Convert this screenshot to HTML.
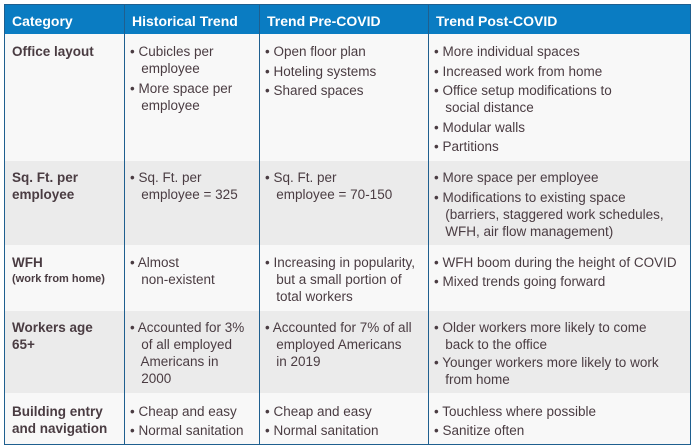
<!DOCTYPE html>
<html><head><meta charset="utf-8"><style>
body{margin:0;width:696px;height:448px;background:#fff;position:relative;overflow:hidden;font-family:"Liberation Sans",sans-serif;color:#4a3c42}
.r{position:absolute;left:5px;width:685px}
.v{position:absolute;top:4px;height:440px;width:1px;background:#1f5f8f}
.t{position:absolute;font-size:13.5px;line-height:17px;white-space:nowrap}
.b{font-weight:bold}
.h{color:#fff;font-weight:bold;font-size:14px}
</style></head><body>
<div class="r" style="top:4px;height:30px;background:#0a7cc2"></div>
<div class="r" style="top:34px;height:127px;background:#f8f8f8"></div>
<div class="r" style="top:161px;height:84px;background:#ebebeb"></div>
<div class="r" style="top:245px;height:66px;background:#f8f8f8"></div>
<div class="r" style="top:311px;height:82px;background:#ebebeb"></div>
<div class="r" style="top:393px;height:51px;background:#f8f8f8"></div>
<div style="position:absolute;left:4px;top:4px;width:685px;height:439px;border:1px solid #1f5f8f"></div>
<div class="v" style="left:124px"></div>
<div class="v" style="left:259px"></div>
<div class="v" style="left:428px"></div>

<div class="t h" style="left:12px;top:13px">Category</div>
<div class="t h" style="left:132px;top:13px">Historical Trend</div>
<div class="t h" style="left:267px;top:13px">Trend Pre-COVID</div>
<div class="t h" style="left:436px;top:13px">Trend Post-COVID</div>

<div class="t b" style="left:12px;top:43px">Office layout</div>
<div class="t" style="left:130px;top:43px">• Cubicles per<br>&nbsp;&nbsp; employee</div>
<div class="t" style="left:130px;top:80px">• More space per<br>&nbsp;&nbsp; employee</div>
<div class="t" style="left:265px;top:43px">• Open floor plan</div>
<div class="t" style="left:265px;top:63px">• Hoteling systems</div>
<div class="t" style="left:265px;top:82px">• Shared spaces</div>
<div class="t" style="left:434px;top:43px">• More individual spaces</div>
<div class="t" style="left:434px;top:63px">• Increased work from home</div>
<div class="t" style="left:434px;top:82px">• Office setup modifications to<br>&nbsp;&nbsp; social distance</div>
<div class="t" style="left:434px;top:119px">• Modular walls</div>
<div class="t" style="left:434px;top:138px">• Partitions</div>

<div class="t b" style="left:12px;top:169px">Sq. Ft. per<br>employee</div>
<div class="t" style="left:130px;top:169px">• Sq. Ft. per<br>&nbsp;&nbsp; employee = 325</div>
<div class="t" style="left:265px;top:169px">• Sq. Ft. per<br>&nbsp;&nbsp; employee = 70-150</div>
<div class="t" style="left:434px;top:169px">• More space per employee</div>
<div class="t" style="left:434px;top:189px">• Modifications to existing space<br>&nbsp;&nbsp; (barriers, staggered work schedules,<br>&nbsp;&nbsp; WFH, air flow management)</div>

<div class="t b" style="left:12px;top:254px">WFH</div>
<div class="t b" style="left:12px;top:271px;font-size:11px">(work from home)</div>
<div class="t" style="left:130px;top:254px">• Almost<br>&nbsp;&nbsp; non-existent</div>
<div class="t" style="left:265px;top:254px">• Increasing in popularity,<br>&nbsp;&nbsp; but a small portion of<br>&nbsp;&nbsp; total workers</div>
<div class="t" style="left:434px;top:254px">• WFH boom during the height of COVID</div>
<div class="t" style="left:434px;top:273px">• Mixed trends going forward</div>

<div class="t b" style="left:12px;top:319px">Workers age<br>65+</div>
<div class="t" style="left:130px;top:319px">• Accounted for 3%<br>&nbsp;&nbsp; of all employed<br>&nbsp;&nbsp; Americans in<br>&nbsp;&nbsp; 2000</div>
<div class="t" style="left:265px;top:319px">• Accounted for 7% of all<br>&nbsp;&nbsp; employed Americans<br>&nbsp;&nbsp; in 2019</div>
<div class="t" style="left:434px;top:319px">• Older workers more likely to come<br>&nbsp;&nbsp; back to the office</div>
<div class="t" style="left:434px;top:354px">• Younger workers more likely to work<br>&nbsp;&nbsp; from home</div>

<div class="t b" style="left:12px;top:403px">Building entry<br>and navigation</div>
<div class="t" style="left:130px;top:403px">• Cheap and easy</div>
<div class="t" style="left:130px;top:422px">• Normal sanitation</div>
<div class="t" style="left:265px;top:403px">• Cheap and easy</div>
<div class="t" style="left:265px;top:422px">• Normal sanitation</div>
<div class="t" style="left:434px;top:403px">• Touchless where possible</div>
<div class="t" style="left:434px;top:422px">• Sanitize often</div>
</body></html>
